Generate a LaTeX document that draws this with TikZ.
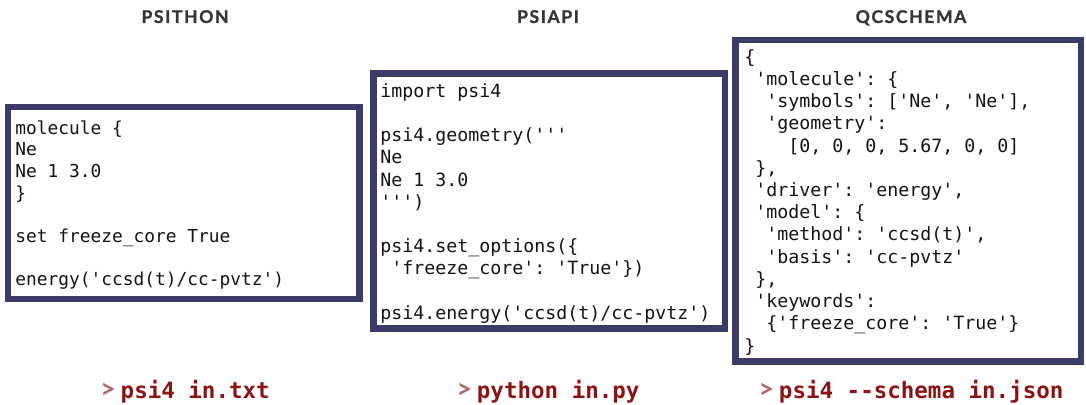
\documentclass[tikz,border=0pt]{standalone}
\usepackage{fontspec}
\setmonofont{DejaVu Sans Mono}
\newfontfamily\titlefont{Lato}[LetterSpace=9,BoldFeatures={FakeBold=1.2}]
\newfontfamily\promptfont{Lato}
\definecolor{framecol}{RGB}{60,58,104}
\definecolor{codecol}{RGB}{20,20,20}
\definecolor{headcol}{RGB}{55,55,55}
\definecolor{cmdcol}{RGB}{138,20,20}
\definecolor{promptcol}{RGB}{176,104,104}
\newcommand{\prompt}{{\promptfont\fontsize{19}{19}\selectfont\color{promptcol}>}\hspace{3.5pt}}
\newcommand{\strt}{\rule{0pt}{11pt}}

\begin{document}
\begin{tikzpicture}[x=0.025cm,y=-0.025cm,
  codeframe/.style={draw=framecol,line width=4.3pt,fill=white},
  code/.style={anchor=north west,inner sep=0pt,align=left,text=codecol,
    font=\ttfamily\fontsize{13}{15.8}\selectfont},
  head/.style={anchor=base,inner sep=0pt,text=headcol,
    font=\titlefont\bfseries\fontsize{12.5}{15}\selectfont},
  cmd/.style={anchor=base,inner sep=0pt,text=cmdcol,
    font=\ttfamily\bfseries\fontsize{16}{19}\selectfont}]
  \useasboundingbox (0,0) rectangle (1086,405);
  %PSITHON
  \node[head] (psithon) at (185,23) {PSITHON};
  \draw[codeframe] (8,107) rectangle (359.5,299);
  \node[code,font=\ttfamily\fontsize{12.7}{15.4}\selectfont] (psithoncode) at (15,118.5) {\strt molecule \{\\
    Ne\\
    Ne 1 3.0\\
    \}\\
    \\
    set freeze\_core True\\
    \\
    energy('ccsd(t)/cc-pvtz')};
  \node[cmd] (psithoncmd) at (185,399) {\prompt psi4 in.txt};
  %PSIAPI
  \node[head] (psiapi) at (548,23) {PSIAPI};
  \draw[codeframe] (373.5,73.5) rectangle (725,328.5);
  \node[code] (psiapicode) at (380,81.5) {\strt import psi4\\
    \\
    psi4.geometry('{}'{}'\\
    Ne\\
    Ne 1 3.0\\
    '{}'{}')\\
    \\
    psi4.set\_options(\{\\
    \phantom{x}'freeze\_core': 'True'\})\\
    \\
    psi4.energy('ccsd(t)/cc-pvtz')};
  \node[cmd] (psiapicmd) at (548,399) {\prompt python in.py};
  %QCSCHEMA
  \node[head] (qcschema) at (911,23) {QCSCHEMA};
  \draw[codeframe] (735.5,40) rectangle (1081,361.5);
  \node[code] (qcschemacode) at (744,47.5) {\strt \{\\
    \phantom{x}'molecule': \{\\
    \phantom{xx}'symbols': ['Ne', 'Ne'],\\
    \phantom{xx}'geometry':\\
    \phantom{xxxx}[0, 0, 0, 5.67, 0, 0]\\
    \phantom{x}\},\\
    \phantom{x}'driver': 'energy',\\
    \phantom{x}'model': \{\\
    \phantom{xx}'method': 'ccsd(t)',\\
    \phantom{xx}'basis': 'cc-pvtz'\\
    \phantom{x}\},\\
    \phantom{x}'keywords':\\
    \phantom{xx}\{'freeze\_core': 'True'\}\\
    \}};
  \node[cmd] (qcschemacmd) at (911,399) {\prompt psi4 -{}-schema in.json};
\end{tikzpicture}
\end{document}
